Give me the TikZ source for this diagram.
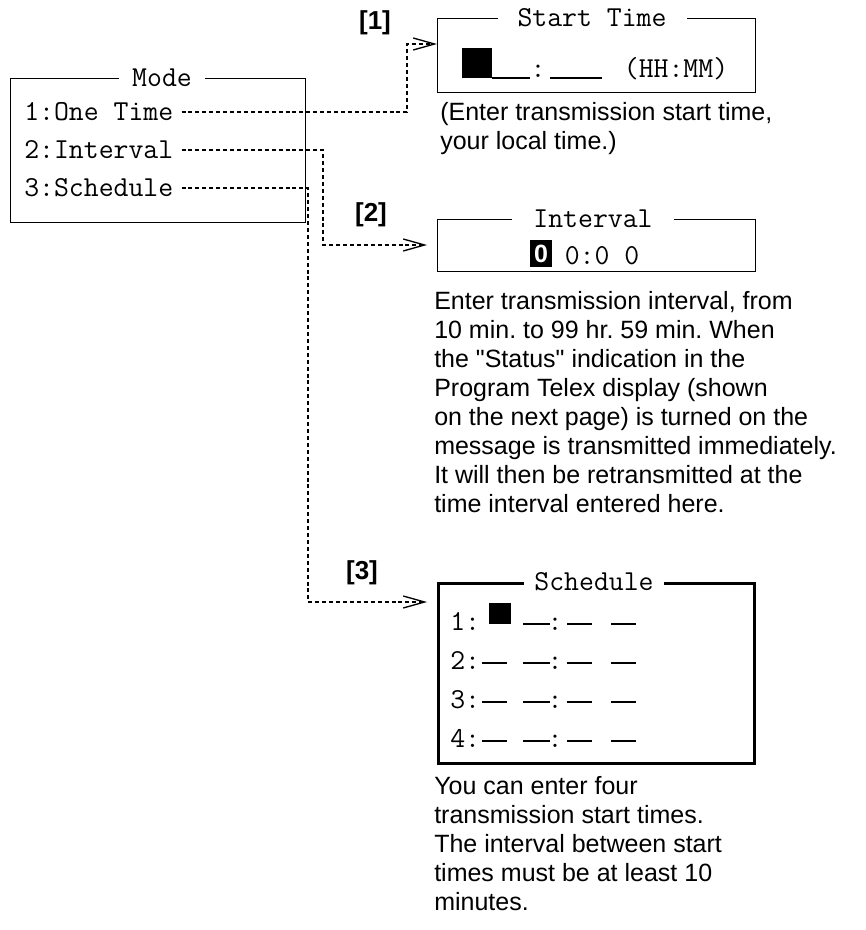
\documentclass[tikz,border=0pt]{standalone}
\usepackage{fontspec}
\setmainfont{Liberation Sans}
\usetikzlibrary{arrows.meta, calc}
\newcommand\bodysize{\fontsize{18.75}{21.75}\selectfont}
\newcommand\lcdtext{\ttfamily\fontsize{21.7}{24}\selectfont}
\frenchspacing

\tikzset{
  panel/.style={draw, line width=1.1pt, inner sep=0pt, anchor=north west},
  paneltitle/.style={fill=white, inner ysep=1pt, inner xsep=#1, font=\lcdtext},
  paneltitle/.default=10pt,
  item/.style={anchor=west, inner xsep=6pt, inner ysep=2pt, font=\lcdtext},
  lcd/.style={inner sep=0pt, font=\lcdtext},
  note/.style={anchor=north west, align=left, inner sep=0pt, font=\bodysize},
  tag/.style={inner sep=0pt, font=\bfseries\fontsize{19.5}{20}\selectfont},
  link/.style={->, line width=1pt, dash pattern=on 3pt off 2.2pt},
  slot/.style={line width=1pt}
}

\begin{document}
\begin{tikzpicture}[x=0.75pt, y=-0.75pt, >={Straight Barb[length=16pt, width=9pt]}]
  \useasboundingbox (0,0) rectangle (865,930);

  \node[panel, minimum width=295*0.75pt, minimum height=144*0.75pt] (mode) at (10,78) {};
  \node[paneltitle] (modetitle) at (162,78) {Mode};
  \node[item] (optone) at (16,112) {1:One Time};
  \node[item] (optinterval) at (16,150) {2:Interval};
  \node[item] (optschedule) at (16,188) {3:Schedule};

  \node[panel, minimum width=318*0.75pt, minimum height=74*0.75pt] (start) at (437,18) {};
  \node[paneltitle=15pt] (starttitle) at (592,18) {Start Time};
  \fill (462,48) rectangle (492,78);
  \draw[slot] (492,78) -- (530,78) (550,78) -- (602,78);
  \node[lcd, anchor=base] (startcolon) at (538,78) {:};
  \node[lcd, anchor=base] (startfmt) at (676,78) {(HH:MM)};
  \node[note] (startnote) at (440,102) {(Enter transmission start time,\\your local time.)};

  \node[panel, minimum width=318*0.75pt, minimum height=52*0.75pt] (interval) at (437,219) {};
  \node[paneltitle=16pt] (intervaltitle) at (593,219) {Interval};
  \node[fill=black, text=white, font=\bfseries\bodysize, minimum width=22*0.75pt, minimum height=27*0.75pt, inner sep=0pt] (cursor) at (541,253.5) {0};
  \node[lcd, anchor=base west] (intervalval) at (564.5,265) {0:0 0};
  \node[note] (intervalnote) at (434,291) {Enter transmission interval, from\\10 min. to 99 hr. 59 min. When\\the \textquotedbl Status\textquotedbl{} indication in the\\Program Telex display (shown\\on the next page) is turned on the\\message is transmitted immediately.\\It will then be retransmitted at the\\time interval entered here.};

  \node[panel, line width=1.9pt, minimum width=316*0.75pt, minimum height=180*0.75pt] (schedule) at (437,582) {};
  \node[paneltitle=8pt] (scheduletitle) at (594,582) {Schedule};
  \fill (489,603) rectangle (511,624);
  \foreach \r/\y in {1/630,2/669,3/708,4/747} {
    \node[lcd, anchor=base west] (row\r) at (450,\y) {\r:};
    \ifnum\r>1 \draw[slot] (482,\y-6) -- (507,\y-6); \fi
    \draw[slot] (523,\y-6) -- (550,\y-6) (567,\y-6) -- (592,\y-6) (611,\y-6) -- (636,\y-6);
    \node[lcd, anchor=base] (colon\r) at (555,\y) {:};
  }
  \node[note] (schedulenote) at (434,776) {You can enter four\\transmission start times.\\The interval between start\\times must be at least 10\\minutes.};

  \node[tag] (tag1) at (375,23) {[1]};
  \node[tag] (tag2) at (371,215) {[2]};
  \node[tag] (tag3) at (362,573) {[3]};

  \coordinate (jog1) at (407,44);
  \coordinate (jog2) at (323,245);
  \coordinate (jog3) at (308,602);
  \draw[link] (optone.east) -| (jog1) -- (jog1 -| start.west);
  \draw[link, shorten >=7.5pt] (optinterval.east) -| (jog2) -- (jog2 -| interval.west);
  \draw[link, shorten >=7.5pt] (optschedule.east) -| (jog3) -- (jog3 -| schedule.west);
\end{tikzpicture}
\end{document}
